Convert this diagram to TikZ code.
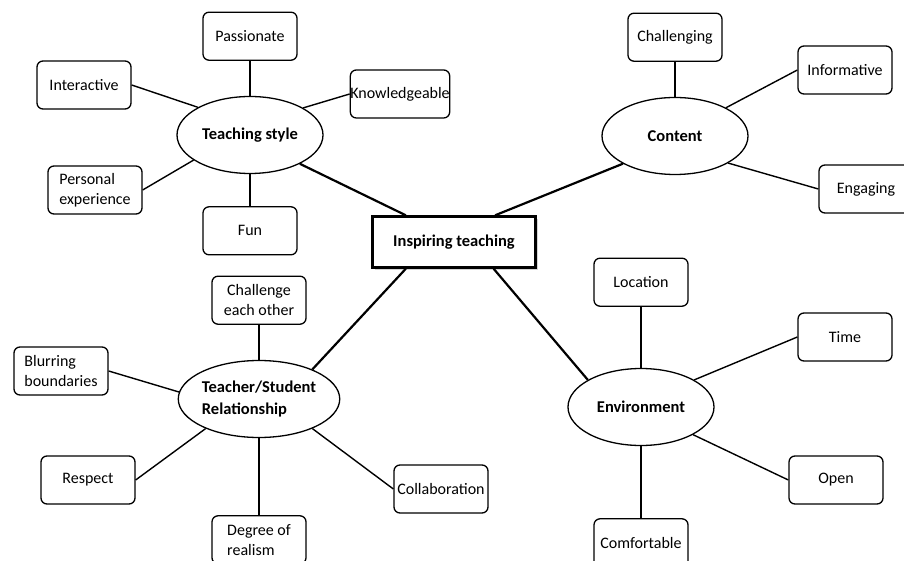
\documentclass[tikz,border=0pt]{standalone}
\usepackage{fontspec}
\setmainfont{Carlito}
\usepackage{tikz}
\usetikzlibrary{positioning,shapes,shadows}

\begin{document}
\begin{tikzpicture}[x=1pt, y=1pt,
  %  node distance=35pt,
    bb/.style={%
      rectangle, rounded corners=6pt, draw=black, line width=1.3pt, fill=white,
      minimum width=94pt, minimum height=48pt, inner sep=0pt, align=left,
      font=\fontsize{16}{20}\selectfont
    },
    topic/.style={%
      ellipse, draw=black, line width=1.3pt, fill=white,
      minimum width=146pt, minimum height=77pt, inner sep=0pt, align=left,
      font=\fontsize{16.5}{21.5}\selectfont\bfseries
    },
    hub/.style={%
      rectangle, draw=black, line width=2.4pt, fill=white,
      minimum width=163pt, minimum height=51pt, align=center,
      font=\fontsize{16.5}{20}\selectfont\bfseries,
      drop shadow={shadow xshift=2.5pt, shadow yshift=-2.5pt, opacity=0.35}
    },
    spoke/.style={line width=2.2pt},
    twig/.style={line width=1.4pt}
]
    \useasboundingbox (0,0) rectangle (904,560);

    \node[hub]   (central) at (454,318) {Inspiring teaching};

    \node[topic] (ts)      at (250,425) {Teaching style};
    \node[topic] (content) at (675,424) {Content};
    \node[topic] (tsr)     at (259,161) {Teacher/Student\\Relationship};
    \node[topic] (env)     at (641,153) {Environment};

    % teaching style
    \node[bb] (passionate)    [above = 35pt of ts]  {Passionate};
    \node[bb] (fun)           [below = 32pt of ts]  {Fun};
    \node[bb] (interactive)   at (84,475)           {Interactive};
    \node[bb] (knowledgeable) at (400,466)          {Knowledgeable};
    \node[bb] (personal)      at (95,370)           {Personal\\experience};

    % content
    \node[bb] (challenging)   [above = 35pt of content] {Challenging};
    \node[bb] (informative)   at (845,490)              {Informative};
    \node[bb] (engaging)      at (866,371)              {Engaging};

    % teacher/student
    \node[bb, align=center] (challenge) [above = 35pt of tsr] {Challenge\\each other};
    \node[bb] (realism)       [below = 77pt of tsr] {Degree of\\realism};
    \node[bb] (blurring)      at (61,189)           {Blurring\\boundaries};
    \node[bb] (respect)       at (88,80)            {Respect};
    \node[bb] (collab)        at (441,71)           {Collaboration};

    % environment
    \node[bb] (location)      [above = 61pt of env] {Location};
    \node[bb] (comfortable)   [below = 72pt of env] {Comfortable};
    \node[bb] (time)          at (845,223)          {Time};
    \node[bb] (open)          at (836,80)           {Open};

    \draw[spoke] (ts.330)      -- (central.151);
    \draw[spoke] (content.208) -- (central.33);
    \draw[spoke] (tsr.29)      -- (central.209);
    \draw[spoke] (env.153)     -- (central.326);

    \draw[twig] (passionate)         -- (ts);
    \draw[twig] (interactive.east)   -- (ts.152);
    \draw[twig] (knowledgeable.west) -- (ts.27);
    \draw[twig] (personal.east)      -- (ts.204);
    \draw[twig] (fun)                -- (ts);

    \draw[twig] (challenging)        -- (content);
    \draw[twig] (informative.west)   -- (content.29);
    \draw[twig] (engaging.west)      -- (content.333);

    \draw[twig] (challenge)          -- (tsr);
    \draw[twig] (blurring.east)      -- (tsr.175);
    \draw[twig] (respect.east)       -- (tsr.209);
    \draw[twig] (realism)            -- (tsr);
    \draw[twig] (collab.west)        -- (tsr.331);

    \draw[twig] (location)           -- (env);
    \draw[twig] (time.west)          -- (env.27);
    \draw[twig] (open.west)          -- (env.332);
    \draw[twig] (comfortable)        -- (env);

\end{tikzpicture}
\end{document}
